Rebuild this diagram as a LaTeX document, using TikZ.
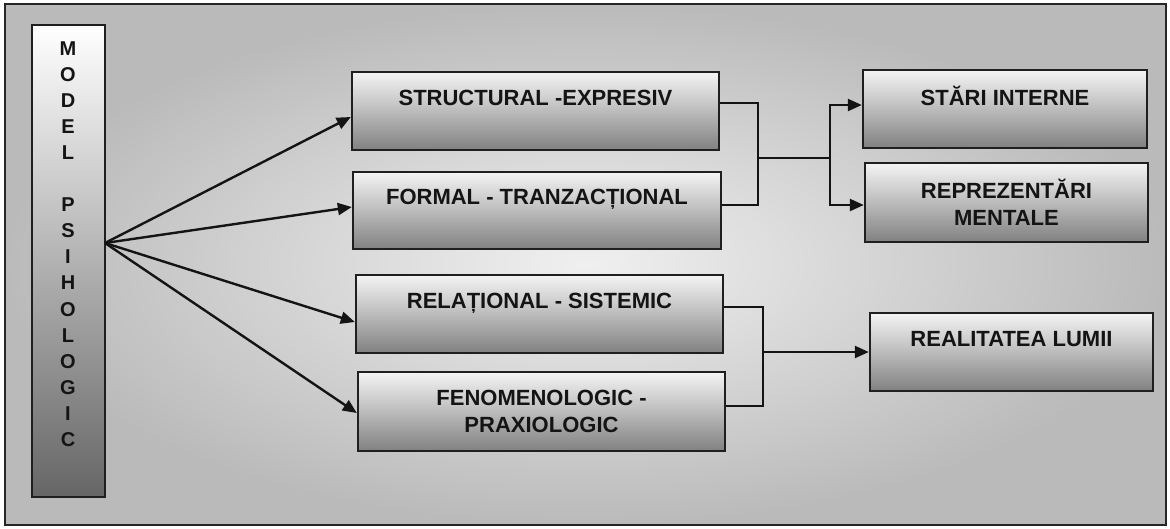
\documentclass[tikz,border=0pt]{standalone}
\usepackage{fontspec}
\setmainfont{Liberation Sans}
\usetikzlibrary{arrows.meta,calc}

\pgfdeclareverticalshading{boxshade}{100bp}{%
  color(0bp)=(black!60);
  color(20bp)=(black!54);
  color(55bp)=(black!22);
  color(80bp)=(white);
  color(100bp)=(white)}

\tikzset{
  frameline/.style={draw=black!85, line width=2.4pt},
  stagebox/.style={draw=black!88, line width=2.4pt, shading=boxshade,
    rectangle, inner sep=0pt, align=center,
    font=\bfseries\fontsize{22}{27}\selectfont, text=black!92},
  modelbox/.style={draw=black!88, line width=2.4pt, rectangle, inner sep=0pt,
    top color=white, bottom color=black!60},
  link/.style={draw=black!92, line width=2.4pt},
  arrowlink/.style={link, -{Triangle[length=14pt,width=12pt]}}
}

\begin{document}
\begin{tikzpicture}[x=1pt,y=-1pt]
  \useasboundingbox (0,0) rectangle (1170,528);
  \fill[white] (0,0) rectangle (1170,528);

  % framed background panel
  \shade[inner color=black!6, outer color=black!27] (5,4) rectangle (1166,525);
  \draw[frameline] (5,4) rectangle (1166,525);

  % left column
  \node[modelbox, minimum width=73pt, minimum height=472pt] (model) at (68.5,261) {};
  \node[font=\bfseries\fontsize{20}{26.1}\selectfont, align=center, inner sep=0pt,
        text=black!92] (modeltxt) at (68,244)
    {M\\O\\D\\E\\L\\[26.1pt]P\\S\\I\\H\\O\\L\\O\\G\\I\\C};

  % middle column
  \node[stagebox, minimum width=367pt, minimum height=78pt] (s1) at (535.5,111)
    {STRUCTURAL -EXPRESIV\\~};
  \node[stagebox, minimum width=368pt, minimum height=77pt] (s2) at (537,210.5)
    {FORMAL - TRANZACȚIONAL\\~};
  \node[stagebox, minimum width=367pt, minimum height=78pt] (s3) at (539.5,314)
    {RELAȚIONAL - SISTEMIC\\~};
  \node[stagebox, minimum width=367pt, minimum height=79pt] (s4) at (541.5,411.5)
    {FENOMENOLOGIC -\\PRAXIOLOGIC};

  % right column
  \node[stagebox, minimum width=284pt, minimum height=78pt] (r1) at (1005,109)
    {STĂRI INTERNE\\~};
  \node[stagebox, minimum width=283pt, minimum height=79pt] (r2) at (1006.5,202.5)
    {REPREZENTĂRI\\MENTALE};
  \node[stagebox, minimum width=283pt, minimum height=78pt] (r3) at (1011.5,352)
    {REALITATEA LUMII\\~};

  % fan of arrows out of the left column
  \coordinate (hub) at (105,243);
  \draw[arrowlink] (hub) -- ($(s1.west)+(0,6)$);
  \draw[arrowlink] (hub) -- ($(s2.west)+(0,-3.5)$);
  \draw[arrowlink] (hub) -- ($(s3.west)+(0,8)$);
  \draw[arrowlink] (hub) -- ($(s4.west)+(0,1.5)$);

  % upper bracket joining the first two stages
  \coordinate (u1) at ($(s1.east)+(0,-8)$);
  \coordinate (u2) at ($(s2.east)+(0,-5.5)$);
  \coordinate (ua) at (758,103);
  \coordinate (ub) at (758,205);
  \coordinate (um) at (758,158);
  \coordinate (uf) at (830,158);
  \draw[link] (u1) -- (ua) -- (ub) -- (u2);
  \draw[link] (um) -- (uf);
  \draw[arrowlink] (uf) |- ($(r1.west)+(0,-4)$);
  \draw[arrowlink] (uf) |- ($(r2.west)+(0,2.5)$);

  % lower bracket joining the last two stages
  \coordinate (l1) at ($(s3.east)+(0,-7)$);
  \coordinate (l2) at ($(s4.east)+(0,-5.5)$);
  \coordinate (la) at (763,307);
  \coordinate (lb) at (763,406);
  \coordinate (lm) at (763,352);
  \draw[link] (l1) -- (la) -- (lb) -- (l2);
  \draw[arrowlink] (lm) -- (r3.west);
\end{tikzpicture}
\end{document}
